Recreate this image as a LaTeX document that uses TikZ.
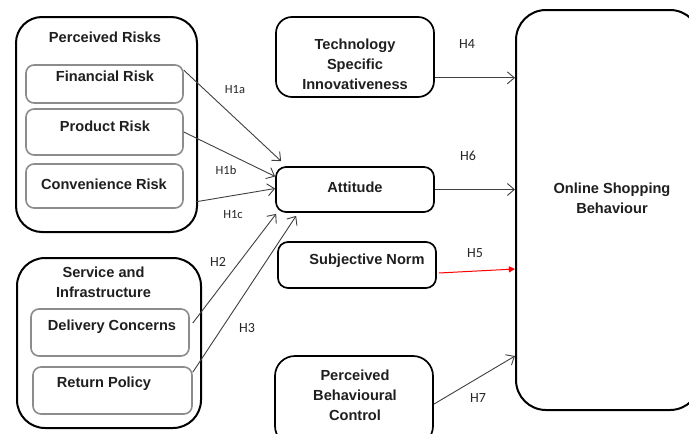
\documentclass[tikz,border=0pt]{standalone}
\usepackage{fontspec}
\setmainfont{Liberation Sans}
\newfontfamily\hfont{Carlito}
\usetikzlibrary{arrows.meta,calc}
\begin{document}
\begin{tikzpicture}[x=1pt,y=-1pt,
  outerbox/.style={draw=black, line width=2pt, inner sep=0pt, fill=white},
  innerbox/.style={draw=black!45, line width=1.6pt, rounded corners=8pt, inner sep=0pt, fill=white},
  blackbox/.style={draw=black, line width=1.7pt, inner sep=0pt, fill=white},
  boxtext/.style={font=\bfseries\fontsize{14.6}{19.8}\selectfont, align=center, text=black!88, inner sep=0pt},
  hlab/.style={font=\hfont\fontsize{12.5}{14}\selectfont, text=black!85, inner sep=0pt},
  hlabb/.style={font=\hfont\fontsize{14}{16}\selectfont, text=black!85, inner sep=0pt},
  conn/.style={draw=black!75, line width=0.9pt, -{Straight Barb[length=7pt,width=12pt]}},
  redconn/.style={draw=red, line width=1pt, -{Triangle[length=6pt,width=6pt]}}
]
\useasboundingbox (0,0) rectangle (689,434);
\clip (0,0) rectangle (689,434);
\fill[white] (0,0) rectangle (689,434);

% Perceived risks group
\node[outerbox, rounded corners=26pt, minimum width=181pt, minimum height=215pt] (pr) at (106.5,124.5) {};
\node[boxtext] (prt) at (105,37) {Perceived Risks};
\node[innerbox, minimum width=157pt, minimum height=38pt] (fin) at (104.5,84) {};
\node[boxtext] (fint) at (105,76) {Financial Risk};
\node[innerbox, minimum width=157pt, minimum height=46pt] (prod) at (104.5,132) {};
\node[boxtext] (prodt) at (105,126) {Product Risk};
\node[innerbox, minimum width=157pt, minimum height=44pt] (conv) at (104.5,186) {};
\node[boxtext] (convt) at (104,184) {Convenience Risk};

% Service and infrastructure group
\node[outerbox, rounded corners=28pt, minimum width=184pt, minimum height=170pt] (si) at (109,343) {};
\node[boxtext] (sit) at (103.5,282.5) {Service and\\Infrastructure};
\node[innerbox, minimum width=158pt, minimum height=47pt] (del) at (110,332.5) {};
\node[boxtext] (delt) at (112,327) {Delivery Concerns};
\node[innerbox, minimum width=159pt, minimum height=47pt] (ret) at (112.5,390.5) {};
\node[boxtext] (rett) at (104,384) {Return Policy};

% middle column
\node[blackbox, rounded corners=16pt, minimum width=158pt, minimum height=80pt] (tech) at (355,57) {};
\node[boxtext] (techt) at (355,64.5) {Technology\\Specific\\Innovativeness};
\node[blackbox, rounded corners=10pt, minimum width=158pt, minimum height=45pt] (att) at (355,189.5) {};
\node[boxtext] (attt) at (355,187) {Attitude};
\node[blackbox, rounded corners=10pt, minimum width=158pt, minimum height=46pt] (sn) at (357,265) {};
\node[boxtext] (snt) at (367,261) {Subjective Norm};
\node[blackbox, rounded corners=20pt, minimum width=158pt, minimum height=90pt] (pbc) at (354,401) {};
\node[boxtext] (pbct) at (355,395.5) {Perceived\\Behavioural\\Control};

% outcome
\node[outerbox, rounded corners=30pt, minimum width=184pt, minimum height=400pt] (osb) at (608,210) {};
\node[boxtext] (osbt) at (612,198) {Online Shopping\\Behaviour};

% connectors
\draw[conn] ($(fin.north east)+(0,6)$) -- ($(att.north west)+(6,-5)$);
\draw[conn] (prod.east) -- ($(att.west)+(0,-13)$);
\draw[conn] ($(conv.south east)+(12,-7)$) -- ($(att.west)+(0,-1)$);
\draw[conn] ($(del.east)+(3,-9.5)$) -- ($(att.south west)+(1,1)$);
\draw[conn] ($(ret.north east)+(0,6)$) -- ($(att.south west)+(21,3)$);
\coordinate (t4) at ($(tech.south east)+(0,-20)$);
\draw[conn] (t4) -- (t4 -| osb.west);
\draw[conn] (att.east) -- (att.east -| osb.west);
\draw[redconn] ($(sn.east)+(2,8)$) -- ($(osb.west)+(0,59)$);
\draw[conn] ($(pbc.north east)+(0,49)$) -- ($(osb.west)+(0,146)$);

% labels
\node[hlab] (h1a) at (235,90) {H1a};
\node[hlab] (h1b) at (226,170) {H1b};
\node[hlab] (h1c) at (233,215) {H1c};
\node[hlabb] (h2) at (218,262) {H2};
\node[hlabb] (h3) at (247,328) {H3};
\node[hlabb] (h4) at (467,44) {H4};
\node[hlabb] (h6) at (468,156) {H6};
\node[hlabb] (h5) at (475,253) {H5};
\node[hlabb] (h7) at (478,398) {H7};
\end{tikzpicture}
\end{document}
